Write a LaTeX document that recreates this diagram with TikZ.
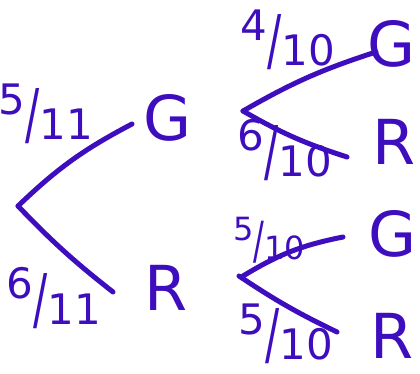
\documentclass[tikz,border=0pt]{standalone}
\usepackage{fontspec}
\setmainfont{DejaVu Sans}
\definecolor{Ink}{RGB}{62,14,190}
\usetikzlibrary{positioning}
\newcommand{\hfrac}[2]{\raisebox{.3em}{#1}\raisebox{-.25em}{\scalebox{1}[1.6]{/}}\raisebox{-.3em}{#2}}

\begin{document}
\begin{tikzpicture}[x=1pt,y=-1pt,
  branch/.style={draw=Ink,line width=5pt,line cap=round},
  leaf/.style={text=Ink,font=\fontsize{62}{62}\selectfont,inner sep=0pt},
  prob/.style={text=Ink,font=\fontsize{42}{42}\selectfont,inner sep=0pt}]
  \useasboundingbox (0,0) rectangle (420,374);
  \coordinate (root) at (18,206);
  \coordinate (up) at (243,111);
  \coordinate (dn) at (243,276);
  \coordinate (e1) at (132,124);
  \coordinate (e2) at (113,292);
  \coordinate (e3) at (376,52);
  \coordinate (e4) at (347,157);
  \coordinate (e5) at (343,237);
  \coordinate (e6) at (337,332);
  \node[leaf] (g1) at (168,118) {G};
  \node[leaf] (r1) at (166,288) {R};
  \node[leaf] (g2) at (392,44) {G};
  \node[leaf] (r2) at (394,142) {R};
  \node[leaf] (g3) at (393,234) {G};
  \node[leaf] (r3) at (392,336) {R};
  \node[prob] (p1) at (46,114) {\hfrac{5}{11}};
  \node[prob] (p2) at (54,298) {\hfrac{6}{11}};
  \node[prob] (p3) at (288,40) {\hfrac{4}{10}};
  \node[prob] (p4) at (285,150) {\hfrac{6}{10}};
  \node[prob,font=\fontsize{32}{32}\selectfont] (p5) at (269,240) {\hfrac{5}{10}};
  \node[prob] (p6) at (286,334) {\hfrac{5}{10}};
  \draw[branch] (root) to[bend left=8] (e1);
  \draw[branch] (root) to[bend right=4] (e2);
  \draw[branch] (up) to[bend left=6] (e3);
  \draw[branch] (up) to[bend right=6] (e4);
  \draw[branch] (dn) to[bend left=10] (e5);
  \draw[branch] ([xshift=-4pt]dn) to[bend right=4] (e6);
\end{tikzpicture}
\end{document}
